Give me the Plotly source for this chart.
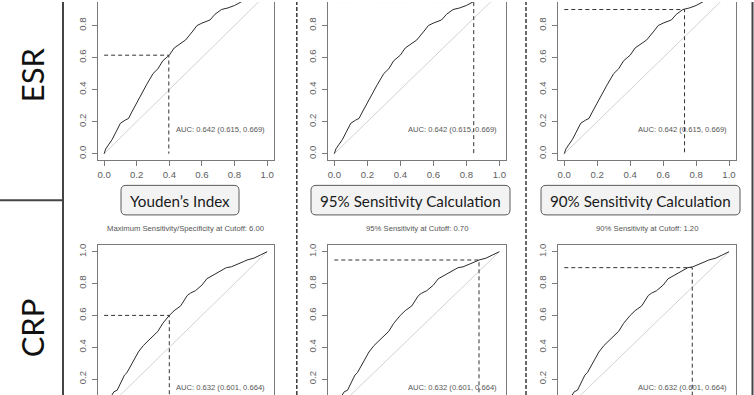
import plotly.graph_objects as go

# ---------------- data ----------------
markers = ["ESR", "CRP"]
methods = ["Youden\u2019s Index", "95% Sensitivity Calculation", "90% Sensitivity Calculation"]
subtitles = ["Maximum Sensitivity/Specificity at Cutoff: 6.00",
             "95% Sensitivity at Cutoff: 0.70",
             "90% Sensitivity at Cutoff: 1.20"]

tick_vals = [0.0, 0.2, 0.4, 0.6, 0.8, 1.0]
tick_text = ["0.0", "0.2", "0.4", "0.6", "0.8", "1.0"]

esr_fpr = [0, 0.01, 0.03, 0.05, 0.07, 0.09, 0.10, 0.13, 0.15, 0.17, 0.20, 0.23, 0.26, 0.30,
           0.33, 0.36, 0.40, 0.43, 0.47, 0.50, 0.54, 0.57, 0.60, 0.65, 0.68, 0.72, 0.76,
           0.80, 0.845, 0.88, 0.93, 1.0]
esr_tpr = [0, 0.03, 0.06, 0.09, 0.13, 0.17, 0.19, 0.21, 0.22, 0.26, 0.32, 0.38, 0.43, 0.50,
           0.53, 0.58, 0.615, 0.66, 0.69, 0.71, 0.76, 0.80, 0.815, 0.835, 0.87, 0.90, 0.91,
           0.925, 0.95, 0.96, 0.98, 1.0]

crp_fpr = [0, 0.01, 0.03, 0.05, 0.06, 0.08, 0.10, 0.125, 0.14, 0.16, 0.18, 0.21, 0.24, 0.27,
           0.30, 0.33, 0.36, 0.40, 0.43, 0.47, 0.51, 0.53, 0.56, 0.60, 0.63, 0.67, 0.71,
           0.75, 0.78, 0.82, 0.86, 0.877, 0.92, 0.96, 1.0]
crp_tpr = [0, 0.03, 0.07, 0.11, 0.12, 0.13, 0.17, 0.225, 0.24, 0.28, 0.32, 0.37, 0.41, 0.44,
           0.465, 0.50, 0.55, 0.60, 0.63, 0.66, 0.725, 0.74, 0.755, 0.79, 0.83, 0.855, 0.88,
           0.90, 0.905, 0.92, 0.94, 0.948, 0.96, 0.98, 1.0]

esr_cut_fpr = [0.397, 0.845, 0.73]
esr_cut_tpr = [0.615, 0.95, 0.90]
crp_cut_fpr = [0.40, 0.877, 0.777]
crp_cut_tpr = [0.60, 0.948, 0.90]

auc_vals = [0.642, 0.632]
auc_low = [0.615, 0.601]
auc_high = [0.669, 0.664]

# ---------------- layout helpers ----------------
W, H = 754, 395


def px(x):
    return x / W


def py(y):
    return 1 - y / H


col_px = [(97.6, 273.6), (327.7, 505.9), (557.7, 735.6)]
row_dom_px = [(158.9, 0.0), (395.0, 244.6)]   # (bottom px, top px)
row_ranges = [[-0.04, 0.947], [0.1, 1.04]]

curves = [(esr_fpr, esr_tpr, esr_cut_fpr, esr_cut_tpr),
          (crp_fpr, crp_tpr, crp_cut_fpr, crp_cut_tpr)]

AXC = "#7a7a7a"
TXC = "#606060"
FONT = "Liberation Sans, Arial, sans-serif"

fig = go.Figure()
layout = dict(
    width=W, height=H, margin=dict(l=0, r=0, t=0, b=0),
    paper_bgcolor="white", plot_bgcolor="white", showlegend=False,
)
annotations = []
shapes = []

k = 0
for r in range(2):
    fpr, tpr, cf, ct = curves[r]
    for c in range(3):
        k += 1
        xa = "x" if k == 1 else f"x{k}"
        ya = "y" if k == 1 else f"y{k}"
        xkey = "xaxis" if k == 1 else f"xaxis{k}"
        ykey = "yaxis" if k == 1 else f"yaxis{k}"
        # diagonal
        fig.add_trace(go.Scatter(x=[0, 1], y=[0, 1], mode="lines",
                                 line=dict(color="#d2d2d2", width=1),
                                 xaxis=xa, yaxis=ya, hoverinfo="skip"))
        # roc curve
        fig.add_trace(go.Scatter(x=fpr, y=tpr, mode="lines",
                                 line=dict(color="#2a2a2a", width=1),
                                 xaxis=xa, yaxis=ya))
        # cutoff guide lines
        fig.add_trace(go.Scatter(x=[0, cf[c], cf[c]], y=[ct[c], ct[c], 0], mode="lines",
                                 line=dict(color="#333333", width=1, dash="4px,3px"),
                                 xaxis=xa, yaxis=ya, hoverinfo="skip"))
        x0, x1 = col_px[c]
        yb, yt = row_dom_px[r]
        top_row = (r == 0)
        layout[xkey] = dict(
            domain=[px(x0), px(x1)], range=[-0.04, 1.04], anchor=ya,
            showgrid=False, zeroline=False, showline=True, linecolor=AXC, linewidth=1,
            side="bottom" if top_row else "top",
            ticks="outside" if top_row else "", ticklen=5, tickcolor=AXC,
            showticklabels=top_row, tickvals=tick_vals, ticktext=tick_text,
            tickfont=dict(family=FONT, size=9.6, color=TXC), fixedrange=True,
        )
        layout[ykey] = dict(
            domain=[py(yb), py(yt)], range=row_ranges[r], anchor=xa,
            showgrid=False, zeroline=False, showline=True, mirror=True,
            linecolor=AXC, linewidth=1, ticks="outside", ticklen=5, tickcolor=AXC,
            tickvals=tick_vals, ticktext=tick_text, tickangle=-90, ticklabelstandoff=2,
            tickfont=dict(family=FONT, size=9.6, color=TXC), fixedrange=True,
        )
        annotations.append(dict(
            x=1.0, y=0.15, xref=xa, yref=ya, xanchor="right", yanchor="middle",
            text=f"AUC: {auc_vals[r]:.3f} ({auc_low[r]:.3f}, {auc_high[r]:.3f})",
            showarrow=False, font=dict(family=FONT, size=7.6, color="#555555"),
        ))
        if r == 1:
            annotations.append(dict(
                x=px((x0 + x1) / 2), y=py(228), xref="paper", yref="paper",
                xanchor="center", yanchor="middle", text=subtitles[c], showarrow=False,
                font=dict(family=FONT, size=7.7, color="#555555"),
            ))

# method label boxes (rounded)
box_px = [(121, 239), (311, 510), (541, 740)]
by0, by1 = 184.3, 214.0
rad = 5.0
for (bx0, bx1), label in zip(box_px, methods):
    rx, ry = rad / W, rad / H
    X0, X1 = px(bx0), px(bx1)
    Y0, Y1 = py(by1), py(by0)  # bottom, top in paper
    path = (f"M {X0+rx},{Y0} L {X1-rx},{Y0} Q {X1},{Y0} {X1},{Y0+ry} "
            f"L {X1},{Y1-ry} Q {X1},{Y1} {X1-rx},{Y1} L {X0+rx},{Y1} "
            f"Q {X0},{Y1} {X0},{Y1-ry} L {X0},{Y0+ry} Q {X0},{Y0} {X0+rx},{Y0} Z")
    shapes.append(dict(type="path", path=path, xref="paper", yref="paper",
                       fillcolor="#f3f3f3", line=dict(color="#5a5a5a", width=1)))
    annotations.append(dict(
        x=px((bx0 + bx1) / 2), y=py((by0 + by1) / 2 + 0.5), xref="paper", yref="paper",
        xanchor="center", yanchor="middle", text=label, showarrow=False,
        font=dict(family="Lato, Open Sans, sans-serif", size=15.2, color="#1a1a1a"),
    ))

# row label frames
shapes.append(dict(type="line", xref="paper", yref="paper", x0=px(63), x1=px(63), y0=0, y1=1,
                   line=dict(color="#444444", width=2)))
shapes.append(dict(type="line", xref="paper", yref="paper", x0=0, x1=px(63), y0=py(199.3),
                   y1=py(199.3), line=dict(color="#444444", width=2)))
for lab, cy in zip(markers, [73.5, 328]):
    annotations.append(dict(
        x=px(32), y=py(cy), xref="paper", yref="paper", xanchor="center", yanchor="middle",
        text=lab, textangle=-90, showarrow=False,
        font=dict(family="Lato, Open Sans, sans-serif", size=31, color="#111111"),
    ))

# dashed frame of middle column, solid right edge
for xx in [296.8, 526.0]:
    shapes.append(dict(type="line", xref="paper", yref="paper", x0=px(xx), x1=px(xx), y0=0, y1=1,
                       line=dict(color="#3a3a3a", width=1.5, dash="4px,2px")))
shapes.append(dict(type="line", xref="paper", yref="paper", x0=px(752.5), x1=px(752.5), y0=0, y1=1,
                   line=dict(color="#444444", width=2)))

layout["annotations"] = annotations
layout["shapes"] = shapes
fig.update_layout(**layout)
fig.write_html("out.html", config={"displayModeBar": False, "staticPlot": True},
               post_script="document.body.style.margin='0px';")
